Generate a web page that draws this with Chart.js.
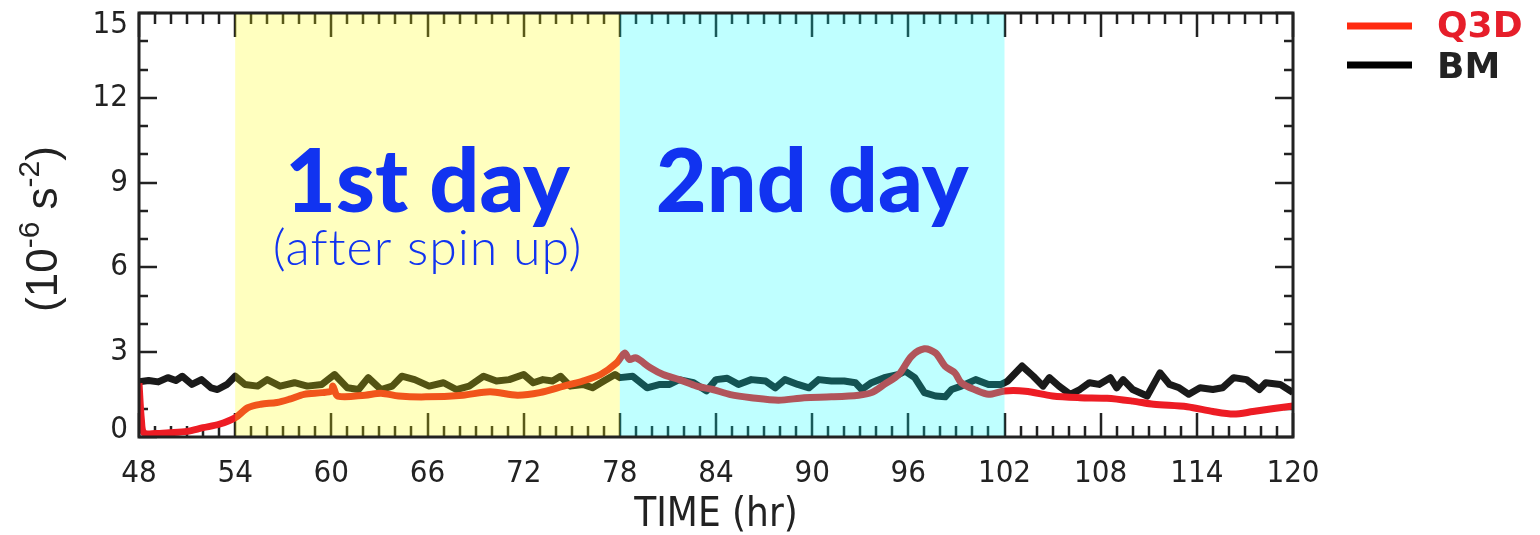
<!DOCTYPE html>
<html>
<head>
<meta charset="utf-8">
<script src="https://cdn.jsdelivr.net/npm/chart.js@4/dist/chart.umd.min.js"></script>
<style>
  html, body { margin: 0; padding: 0; background: #fff; }
  #wrap { width: 1540px; height: 535px; position: relative; }
</style>
</head>
<body>
<div id="wrap"><canvas id="chart"></canvas></div>
<script>
// Vertical wind shear series, hours 48-120.
const q3dHours = [48.0, 48.15, 48.3, 49.0, 49.9, 51.0, 52.0, 53.0, 54.0, 54.8, 55.6, 56.6, 57.4, 58.3, 59.4, 60.0, 60.1, 60.4,
  62.1, 63.1, 64.2, 65.9, 68.2, 69.9, 71.6, 73.0, 74.5, 75.7, 76.8, 77.8, 78.3, 78.6, 79.0, 79.9, 80.7, 81.7, 82.8, 83.8,
  84.9, 86.2, 87.9, 89.5, 91.2, 92.9, 93.7, 94.5, 95.4, 96.2, 97.0, 97.7, 98.3, 98.9, 99.3, 100.2, 101.0, 102.0, 103.3,
  105.0, 106.7, 108.4, 110.0, 111.3, 113.4, 115.0, 116.3, 117.5, 118.8, 120.0];
const q3dValues = [1.9, 0.6, 0.15, 0.12, 0.15, 0.2, 0.33, 0.45, 0.68, 1.04, 1.16, 1.22, 1.34, 1.51, 1.57, 1.63, 1.8, 1.45,
  1.48, 1.55, 1.45, 1.42, 1.48, 1.6, 1.48, 1.57, 1.8, 1.98, 2.21, 2.62, 2.97, 2.74, 2.8, 2.45, 2.21, 2.03, 1.8, 1.68,
  1.5, 1.39, 1.3, 1.39, 1.42, 1.48, 1.57, 1.86, 2.21, 2.86, 3.12, 2.97, 2.5, 2.27, 1.92, 1.66, 1.51, 1.63, 1.62,
  1.45, 1.39, 1.37, 1.27, 1.16, 1.07, 0.9, 0.81, 0.9, 1.01, 1.1];

const bmHours = [48.0, 48.6, 49.2, 49.8, 50.3, 50.7, 51.3, 51.9, 52.5, 52.9, 53.5, 54.0, 54.6, 55.4, 56.0, 56.8, 57.7, 58.5,
  59.4, 60.2, 61.0, 61.7, 62.3, 63.1, 63.8, 64.4, 65.2, 66.1, 67.0, 67.8, 68.6, 69.5, 70.3, 71.1, 72.0, 72.6, 73.2, 73.8,
  74.3, 74.9, 75.7, 76.3, 77.0, 77.7, 78.0, 78.8, 79.7, 80.5, 81.1, 81.7, 82.6, 83.4, 84.0, 84.7, 85.4, 86.2, 87.1, 87.7,
  88.3, 89.1, 89.8, 90.4, 91.2, 92.0, 92.7, 93.1, 93.7, 94.5, 95.4, 95.8, 96.4, 97.0, 97.7, 98.3, 98.7, 99.3, 100.2,
  101.0, 101.8, 102.2, 103.1, 103.8, 104.4, 104.8, 105.4, 106.1, 106.7, 107.3, 107.9, 108.6, 109.0, 109.4, 110.0, 110.9,
  111.7, 112.3, 112.9, 113.5, 114.2, 115.0, 115.6, 116.3, 117.1, 117.9, 118.3, 119.2, 120.0];
const bmValues = [1.95, 2.0, 1.95, 2.1, 2.0, 2.15, 1.86, 2.03, 1.74, 1.68, 1.86, 2.15, 1.86, 1.8, 2.03, 1.8, 1.92, 1.8,
  1.86, 2.21, 1.74, 1.68, 2.1, 1.68, 1.8, 2.15, 2.03, 1.8, 1.92, 1.68, 1.8, 2.15, 1.98, 2.03, 2.21, 1.92, 2.03, 1.98,
  2.15, 1.8, 1.86, 1.74, 1.98, 2.21, 2.1, 2.15, 1.74, 1.86, 1.86, 2.03, 1.92, 1.63, 2.03, 2.08, 1.86, 2.03, 1.98, 1.74,
  2.03, 1.86, 1.74, 2.03, 1.98, 1.98, 1.92, 1.68, 1.92, 2.1, 2.21, 2.33, 2.1, 1.57, 1.45, 1.42, 1.68, 1.8, 2.03,
  1.86, 1.86, 1.98, 2.51, 2.15, 1.8, 2.1, 1.8, 1.51, 1.68, 1.92, 1.86, 2.1, 1.74, 2.03, 1.68, 1.45,
  2.27, 1.86, 1.74, 1.51, 1.74, 1.68, 1.74, 2.1, 2.03, 1.68, 1.92, 1.86, 1.57];

const xTicks = [48, 54, 60, 66, 72, 78, 84, 90, 96, 102, 108, 114, 120];
const yTicks = [0, 3, 6, 9, 12, 15];

// shaded periods: [start, end, overlay colour, main label, sub label]
const periods = [
  [54, 78, 'rgba(255,255,0,0.25)', '1st day', '(after spin up)'],
  [78, 102, 'rgba(0,255,255,0.25)', '2nd day', null],
];

const AXIS_FONT = "'Liberation Sans Narrow', 'DejaVu Sans Condensed', sans-serif";
const INK = '#222';

const toPoints = (xs, ys) => xs.map((x, i) => ({ x, y: ys[i] }));

// inward tick marks on all four sides, drawn under the shading
function drawTicks(chart) {
  const { ctx, chartArea: a, scales: { x, y } } = chart;
  ctx.save();
  ctx.strokeStyle = INK;
  ctx.lineWidth = 2.5;
  ctx.beginPath();
  for (let h = 48; h <= 120; h++) {
    const px = Math.round(x.getPixelForValue(h));
    const len = (h % 6 === 0) ? 24 : 11;
    ctx.moveTo(px, a.bottom); ctx.lineTo(px, a.bottom - len);
    ctx.moveTo(px, a.top); ctx.lineTo(px, a.top + len);
  }
  for (let v = 0; v <= 15; v++) {
    const py = Math.round(y.getPixelForValue(v));
    const len = (v % 3 === 0) ? 18 : 9;
    ctx.moveTo(a.left, py); ctx.lineTo(a.left + len, py);
    ctx.moveTo(a.right, py); ctx.lineTo(a.right - len, py);
  }
  ctx.stroke();
  ctx.restore();
}

const shearDecor = {
  id: 'shearDecor',
  beforeDraw(chart) {
    // pull the end labels of the y axis inside the frame height
    const y = chart.scales.y;
    if (!y.getLabelItems) return;
    const items = y.getLabelItems(chart.chartArea);
    const n = items.length;
    if (n > 1 && !items._nudged) {
      items[0].options.translation[1] -= 7;
      items[n - 1].options.translation[1] += 12;
      items._nudged = true;
    }
  },
  beforeDatasetsDraw(chart) {
    drawTicks(chart);
  },
  afterDatasetsDraw(chart) {
    const { ctx, chartArea: a, scales: { x } } = chart;
    ctx.save();
    for (const [s, e, col] of periods) {
      const x0 = x.getPixelForValue(s), x1 = x.getPixelForValue(e);
      ctx.fillStyle = col;
      ctx.fillRect(x0, a.top, x1 - x0, a.bottom - a.top);
    }
    ctx.restore();
  },
  afterDraw(chart) {
    const { ctx, chartArea: a, scales: { x, y } } = chart;
    ctx.save();

    // frame
    ctx.strokeStyle = INK;
    ctx.lineWidth = 3;
    ctx.strokeRect(a.left, a.top, a.right - a.left, a.bottom - a.top);

    // period labels
    ctx.fillStyle = '#1133f0';
    ctx.textAlign = 'center';
    ctx.textBaseline = 'alphabetic';
    for (const [s, e, , main, sub] of periods) {
      const cx = x.getPixelForValue((s + e) / 2);
      ctx.letterSpacing = '0px';
      ctx.font = "900 88px Lato, 'DejaVu Sans', sans-serif";
      ctx.fillText(main, cx, y.getPixelForValue(7.95));
      if (sub) {
        ctx.letterSpacing = '1px';
        ctx.font = "300 50px Lato, 'DejaVu Sans', sans-serif";
        ctx.fillText(sub, cx, y.getPixelForValue(6.1));
      }
    }
    ctx.letterSpacing = '0px';

    // y axis title with superscripts
    ctx.translate(45, 229);
    ctx.rotate(-Math.PI / 2);
    ctx.fillStyle = INK;
    ctx.textAlign = 'left';
    ctx.textBaseline = 'middle';
    const parts = [['(10', 44, 0], ['-6', 30, -14], [' s', 44, 0], ['-2', 30, -14], [')', 44, 0]];
    let w = 0;
    for (const [t, sz] of parts) { ctx.font = `${sz}px 'Liberation Sans', sans-serif`; w += ctx.measureText(t).width; }
    let cx = -w / 2;
    for (const [t, sz, dy] of parts) {
      ctx.font = `${sz}px 'Liberation Sans', sans-serif`;
      ctx.fillText(t, cx, dy);
      cx += ctx.measureText(t).width;
    }
    ctx.setTransform(1, 0, 0, 1, 0, 0);

    // legend
    const rows = [[0, 26, 28], [1, 65, 69]];
    ctx.textAlign = 'left';
    ctx.textBaseline = 'middle';
    ctx.font = "bold 36px 'DejaVu Sans', sans-serif";
    for (const [i, ly, ty] of rows) {
      const ds = chart.data.datasets[i];
      ctx.strokeStyle = ds.legendColor;
      ctx.lineWidth = 7;
      ctx.beginPath();
      ctx.moveTo(1347, ly); ctx.lineTo(1412, ly);
      ctx.stroke();
      ctx.fillStyle = ds.textColor;
      ctx.fillText(ds.label, 1437, ty);
    }
    ctx.restore();
  }
};

new Chart(document.getElementById('chart'), {
  type: 'line',
  data: {
    datasets: [
      {
        label: 'Q3D',
        data: toPoints(q3dHours, q3dValues),
        borderColor: '#ed1c24',
        legendColor: '#ff2a10',
        textColor: '#e61e2a',
        borderWidth: 7,
        pointRadius: 0,
        tension: 0.3,
        borderJoinStyle: 'round',
      },
      {
        label: 'BM',
        data: toPoints(bmHours, bmValues),
        borderColor: '#1a1a1a',
        legendColor: '#000',
        textColor: '#222',
        borderWidth: 7,
        pointRadius: 0,
        tension: 0,
        borderJoinStyle: 'round',
      },
    ],
  },
  options: {
    responsive: true,
    maintainAspectRatio: false,
    animation: false,
    layout: { autoPadding: false, padding: { left: 0, right: 247, top: 13, bottom: 0 } },
    scales: {
      x: {
        type: 'linear',
        min: 48,
        max: 120,
        afterBuildTicks: s => { s.ticks = xTicks.map(v => ({ value: v })); },
        afterFit: s => { s.height = 98; },
        grid: { display: false, drawTicks: false },
        border: { display: false },
        ticks: { padding: 18, color: INK, font: { family: AXIS_FONT, size: 31 }, maxRotation: 0, autoSkip: false },
        title: { display: true, text: 'TIME (hr)', color: INK, font: { family: AXIS_FONT, size: 40 }, padding: { top: 0, bottom: -5 } },
      },
      y: {
        min: 0,
        max: 15,
        afterBuildTicks: s => { s.ticks = yTicks.map(v => ({ value: v })); },
        // keep the plot top flush with the layout padding
        afterFit: s => { s.width = 139; s.paddingTop = 0; s.paddingBottom = 0; },
        grid: { display: false, drawTicks: false },
        border: { display: false },
        ticks: { padding: 11, color: INK, font: { family: AXIS_FONT, size: 31 } },
      },
    },
    plugins: {
      legend: { display: false },
      tooltip: { enabled: false },
    },
  },
  plugins: [shearDecor],
});
</script>
</body>
</html>
